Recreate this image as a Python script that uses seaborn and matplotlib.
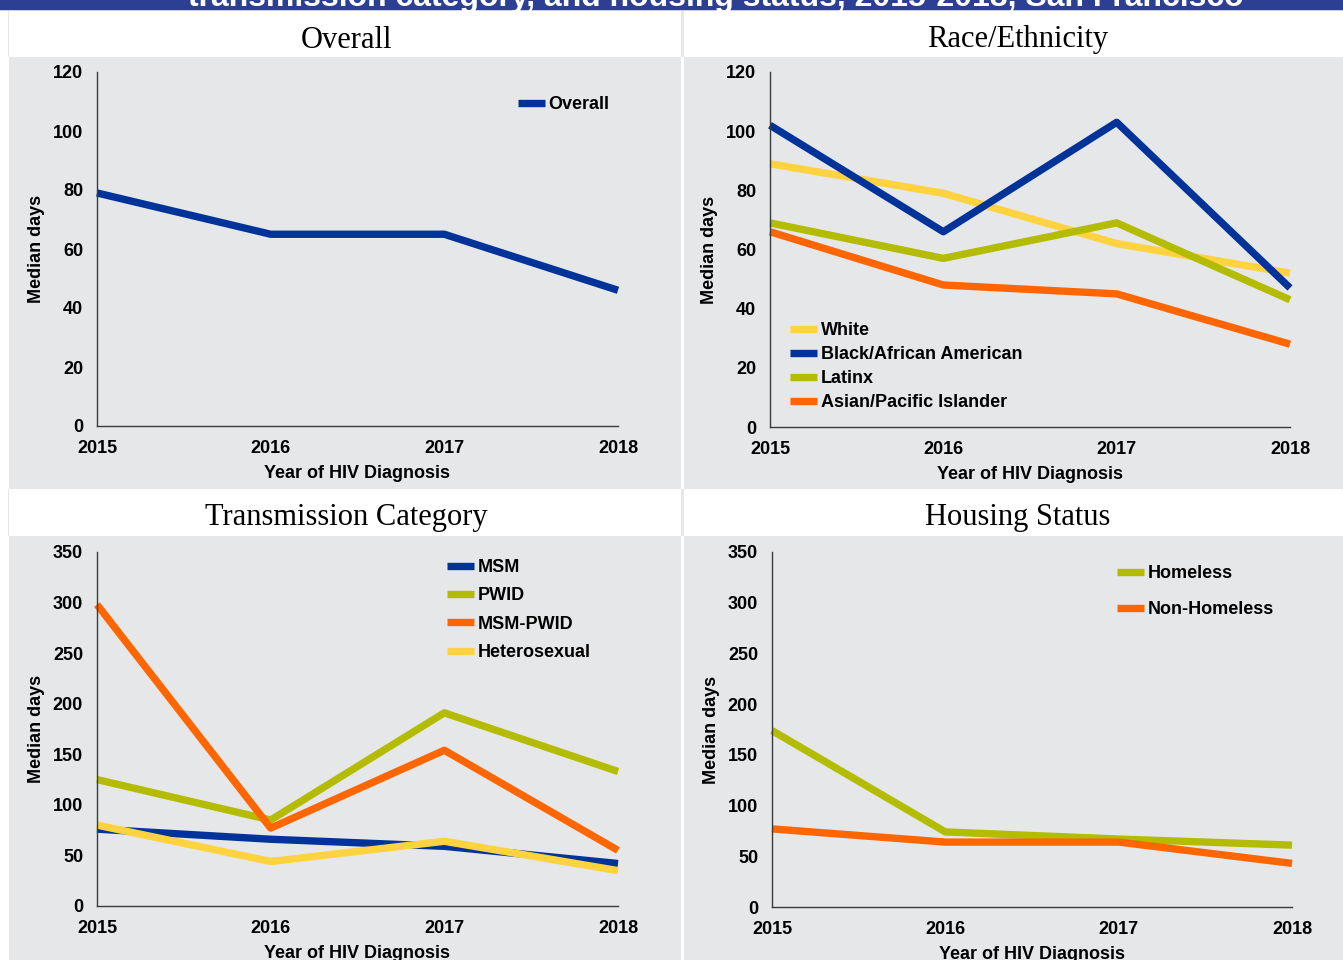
import matplotlib
matplotlib.use("Agg")
import matplotlib.pyplot as plt
from matplotlib.lines import Line2D
from matplotlib.patches import Rectangle
import pandas as pd
import seaborn as sns

# ---- data -------------------------------------------------------------
years = [2015, 2016, 2017, 2018]

overall = [79, 65, 65, 46]

race_labels = ["White", "Black/African American", "Latinx", "Asian/Pacific Islander"]
race_white = [89, 79, 62, 52]
race_black = [102, 66, 103, 47]
race_latinx = [69, 57, 69, 43]
race_api = [66, 48, 45, 28]

trans_labels = ["MSM", "PWID", "MSM-PWID", "Heterosexual"]
trans_msm = [76, 66, 59, 42]
trans_pwid = [125, 85, 191, 133]
trans_msm_pwid = [298, 77, 154, 55]
trans_hetero = [80, 44, 64, 35]

housing_labels = ["Homeless", "Non-Homeless"]
housing_homeless = [174, 74, 67, 61]
housing_non_homeless = [77, 64, 64, 43]

panel_titles = ["Overall", "Race/Ethnicity", "Transmission Category", "Housing Status"]
banner_text = "transmission category, and housing status, 2015-2018, San Francisco"

# ---- styling ----------------------------------------------------------
NAVY = "#003399"
YELLOW = "#FFD23F"
OLIVE = "#B3BC00"
ORANGE = "#FF6600"
PANEL = "#E6E7E9"
BANNER = "#2C3F92"
INK = "black"
FS = 13

sns.set_theme(style="white")
plt.rcParams["font.family"] = ["Liberation Sans", "DejaVu Sans"]
plt.rcParams["font.weight"] = "bold"
plt.rcParams["text.color"] = INK
plt.rcParams["axes.labelcolor"] = INK
plt.rcParams["xtick.color"] = INK
plt.rcParams["ytick.color"] = INK

W, H = 1343, 960
fig = plt.figure(figsize=(W / 100, H / 100), dpi=100)
fig.patch.set_facecolor("white")


def fx(px):
    return px / W


def fy(py):
    return 1 - py / H


def frect(x0, y0, x1, y1, color):
    fig.patches.append(Rectangle((fx(x0), fy(y1)), fx(x1 - x0), (y1 - y0) / H,
                                 transform=fig.transFigure, facecolor=color,
                                 edgecolor="none", zorder=-5))


# banner strip along the top
frect(0, 0, W, 10, BANNER)
frect(0, 10, W, 11, "#C9CFE6")
fig.text(fx(716), fy(6), banner_text, color="white", fontsize=23,
         fontweight="bold", ha="center", va="baseline")

# panel cells: white title strips + grey plot areas
cols = [(9, 681), (684, W)]
rows = [(11, 57, 489), (489, 536, H)]
for (tx0, tx1) in cols:
    for (t0, t1, b1) in rows:
        frect(tx0, t1, tx1, b1, PANEL)
frect(681, 11, 684, 57, PANEL)
frect(681, 489, 684, 536, PANEL)
frect(8, 11, 9, 57, PANEL)
frect(8, 489, 9, 536, PANEL)

title_pos = [(346, 40), (1018, 40), (346, 517), (1018, 517)]
for t, (px, py) in zip(panel_titles, title_pos):
    fig.text(fx(px), fy(py), t, fontsize=22, fontweight="normal",
             family=["Liberation Serif", "DejaVu Serif"],
             ha="center", va="center", color="black")


def make_axes(x0, x1, ytop, ybot):
    return fig.add_axes([fx(x0), fy(ybot), fx(x1 - x0), (ybot - ytop) / H])


def style_axes(ax, ymax, step):
    ax.set_facecolor("none")
    ax.set_xlim(2015, 2018)
    ax.set_ylim(0, ymax)
    ax.set_xticks(years)
    ax.set_xticklabels([str(y) for y in years])
    ax.set_yticks(range(0, ymax + 1, step))
    for s in ["top", "right"]:
        ax.spines[s].set_visible(False)
    for s in ["left", "bottom"]:
        ax.spines[s].set_color("#3A3A3A")
        ax.spines[s].set_linewidth(1.0)
    ax.tick_params(axis="both", which="major", direction="out", length=4,
                   width=1.0, color="#3A3A3A", labelcolor=INK,
                   labelsize=FS, pad=6)
    for lab in ax.get_xticklabels() + ax.get_yticklabels():
        lab.set_fontweight("bold")
    ax.set_xlabel("Year of HIV Diagnosis", fontsize=FS, fontweight="bold",
                  labelpad=6, color=INK)
    ax.set_ylabel("Median days", fontsize=FS, fontweight="bold", labelpad=6,
                  color=INK)
    ax.grid(False)


def draw(ax, series, labels, colors):
    df = pd.DataFrame({
        "year": [y for _ in series for y in years],
        "days": [v for s in series for v in s],
        "group": [lab for lab in labels for _ in years],
    })
    sns.lineplot(data=df, x="year", y="days", hue="group", hue_order=labels,
                 palette=colors, linewidth=5.3, sort=False, legend=False,
                 ax=ax, solid_capstyle="butt", clip_on=False)


def add_legend(ax, labels, colors, px, py, spacing):
    handles = [Line2D([0], [0], color=c, lw=5.3, solid_capstyle="butt")
               for c in colors]
    leg = ax.legend(handles, labels, loc="upper left",
                    bbox_to_anchor=(fx(px), fy(py)),
                    bbox_transform=fig.transFigure,
                    frameon=False, handlelength=1.5,
                    handletextpad=0.2, borderpad=0, borderaxespad=0,
                    labelspacing=spacing, prop={"weight": "bold", "size": FS})
    for t in leg.get_texts():
        t.set_color(INK)


# Overall
ax1 = make_axes(97, 618, 72, 426)
draw(ax1, [overall], ["Overall"], [NAVY])
style_axes(ax1, 120, 20)
add_legend(ax1, ["Overall"], [NAVY], 518, 96, 0.3)

# Race / ethnicity
ax2 = make_axes(770, 1290, 72, 427)
race_colors = [YELLOW, NAVY, OLIVE, ORANGE]
draw(ax2, [race_white, race_black, race_latinx, race_api], race_labels, race_colors)
style_axes(ax2, 120, 20)
add_legend(ax2, race_labels, race_colors, 790, 322, 0.39)

# Transmission category
ax3 = make_axes(97, 618, 552, 906)
trans_colors = [NAVY, OLIVE, ORANGE, YELLOW]
draw(ax3, [trans_msm, trans_pwid, trans_msm_pwid, trans_hetero], trans_labels, trans_colors)
style_axes(ax3, 350, 50)
add_legend(ax3, trans_labels, trans_colors, 447, 559, 0.63)

# Housing status
ax4 = make_axes(772, 1292, 552, 907)
housing_colors = [OLIVE, ORANGE]
draw(ax4, [housing_homeless, housing_non_homeless], housing_labels, housing_colors)
style_axes(ax4, 350, 50)
add_legend(ax4, housing_labels, housing_colors, 1117, 565, 1.08)

fig.savefig("out.png", dpi=100, facecolor=fig.get_facecolor())
